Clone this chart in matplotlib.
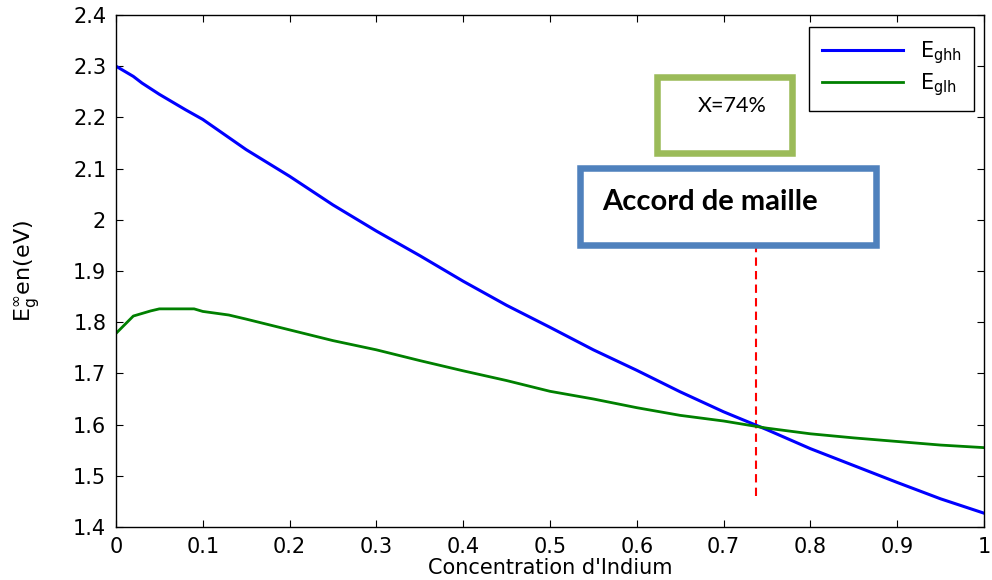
import matplotlib
matplotlib.use("Agg")
import matplotlib.pyplot as plt
from matplotlib.patches import Rectangle

# band gap vs indium fraction
x_hh = [0.0, 0.02, 0.03, 0.05, 0.08, 0.10, 0.15, 0.20, 0.25, 0.30, 0.35, 0.40,
        0.45, 0.50, 0.55, 0.60, 0.65, 0.70, 0.75, 0.80, 0.85, 0.90, 0.95, 1.0]
e_ghh = [2.300, 2.280, 2.267, 2.245, 2.215, 2.196, 2.137, 2.085, 2.029, 1.978,
         1.930, 1.880, 1.833, 1.790, 1.746, 1.706, 1.664, 1.625, 1.590, 1.553,
         1.520, 1.487, 1.455, 1.427]

x_lh = [0.0, 0.02, 0.04, 0.05, 0.09, 0.10, 0.13, 0.15, 0.20, 0.25, 0.30, 0.35,
        0.40, 0.45, 0.50, 0.55, 0.60, 0.65, 0.70, 0.75, 0.80, 0.85, 0.90, 0.95, 1.0]
e_glh = [1.778, 1.812, 1.822, 1.826, 1.826, 1.821, 1.814, 1.806, 1.785, 1.764,
         1.746, 1.725, 1.705, 1.686, 1.665, 1.650, 1.633, 1.618, 1.607, 1.593,
         1.582, 1.574, 1.567, 1.560, 1.555]

x_accord = 0.737
accord_span = [1.46, 1.95]

plt.rcParams['font.family'] = 'DejaVu Sans'
plt.rcParams['mathtext.fontset'] = 'dejavusans'
fs = 15

fig = plt.figure(figsize=(9.92, 5.8), dpi=100)
ax = fig.add_axes([0.1169, 0.0914, 0.875, 0.8828])

ax.plot(x_hh, e_ghh, color=(0, 0, 1), lw=2.2, label=r'$\mathrm{E_{ghh}}$')
ax.plot(x_lh, e_glh, color=(0, 0.5, 0), lw=2.0, label=r'$\mathrm{E_{glh}}$')
ax.plot([x_accord, x_accord], accord_span, color='red', lw=1.5,
        dashes=(4, 2.5), zorder=1)

ax.set_xlim(0, 1)
ax.set_ylim(1.4, 2.4)
ax.set_xticks([0, 0.1, 0.2, 0.3, 0.4, 0.5, 0.6, 0.7, 0.8, 0.9, 1])
ax.set_xticklabels(['0', '0.1', '0.2', '0.3', '0.4', '0.5', '0.6', '0.7', '0.8', '0.9', '1'])
ax.set_yticks([1.4, 1.5, 1.6, 1.7, 1.8, 1.9, 2.0, 2.1, 2.2, 2.3, 2.4])
ax.set_yticklabels(['1.4', '1.5', '1.6', '1.7', '1.8', '1.9', '2', '2.1', '2.2', '2.3', '2.4'])
ax.tick_params(direction='in', top=True, right=True, length=5, width=0.8,
               labelsize=fs)
ax.tick_params(axis='x', pad=7)
ax.tick_params(axis='y', pad=7)
for s in ax.spines.values():
    s.set_linewidth(1.0)

ax.set_xlabel("Concentration d'Indium", fontsize=fs, labelpad=1)
ax.set_ylabel(r'$\mathrm{E_g^{\infty}}$en(eV)', fontsize=fs + 1, labelpad=22)

ax.legend(loc='upper right', bbox_to_anchor=(0.9888, 0.977), borderaxespad=0,
          fontsize=fs, handlelength=3.9, handletextpad=0.8, fancybox=False,
          edgecolor='black', framealpha=1, labelspacing=0.25, borderpad=0.6)
ax.get_legend().get_frame().set_linewidth(1.0)

# annotation boxes
ax.add_patch(Rectangle((0.623, 2.131), 0.156, 0.147, fill=True, facecolor='white',
                       edgecolor='#9BBB59', lw=4.7, zorder=3))
ax.text(0.670, 2.222, 'X=74%', fontsize=15.5, family='Lato', va='center', zorder=4)

ax.add_patch(Rectangle((0.5346, 1.951), 0.341, 0.151, fill=True, facecolor='white',
                       edgecolor='#4F81BD', lw=4.7, zorder=3))
ax.text(0.5607, 2.035, 'Accord de maille', fontsize=21, family='Lato',
        fontweight='bold', va='center', zorder=4)

fig.savefig('out.png', dpi=100)
